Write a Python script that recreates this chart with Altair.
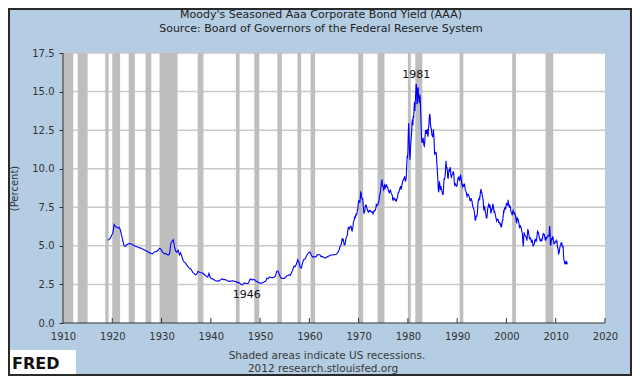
import altair as alt
import pandas as pd

# ---------------- data ----------------
# Moody's Seasoned Aaa yield, quarterly 1919-1939
aaa_q_1919_1939 = [
    5.36, 5.42, 5.52, 5.68,  5.85, 6.38, 6.25, 6.22,  6.15, 6.20, 6.05, 5.70,
    5.35, 5.02, 4.96, 5.06,  5.10, 5.15, 5.14, 5.12,  5.07, 5.03, 4.97, 4.96,
    4.93, 4.88, 4.87, 4.85,  4.80, 4.76, 4.72, 4.68,  4.63, 4.59, 4.55, 4.50,
    4.48, 4.54, 4.62, 4.62,  4.66, 4.76, 4.85, 4.78,  4.63, 4.55, 4.48, 4.50,
    4.44, 4.40, 4.48, 5.15,  5.30, 5.40, 4.95, 4.66,  4.58, 4.72, 4.42, 4.55,
    4.30, 4.05, 3.95, 3.88,  3.75, 3.66, 3.55, 3.52,  3.40, 3.27, 3.20, 3.12,
    3.15, 3.34, 3.30, 3.27,  3.25, 3.24, 3.16, 3.08,  3.02, 2.97, 3.22, 2.95,
]
# quarterly 1940-1965
aaa_q_1940_1965 = [
    2.87, 2.86, 2.82, 2.74,  2.72, 2.74, 2.72, 2.78,  2.83, 2.86, 2.81, 2.82,
    2.79, 2.73, 2.70, 2.70,  2.72, 2.74, 2.72, 2.70,  2.67, 2.62, 2.63, 2.58,
    2.50, 2.47, 2.55, 2.60,  2.58, 2.55, 2.58, 2.78,  2.86, 2.78, 2.83, 2.80,
    2.72, 2.70, 2.63, 2.60,  2.58, 2.60, 2.62, 2.67,  2.70, 2.90, 2.87, 2.98,
    2.97, 2.93, 2.94, 2.98,  3.05, 3.35, 3.38, 3.18,  2.98, 2.89, 2.88, 2.89,
    2.95, 3.05, 3.08, 3.12,  3.09, 3.25, 3.45, 3.68,  3.66, 3.82, 4.10, 3.95,
    3.60, 3.57, 3.90, 4.12,  4.14, 4.32, 4.46, 4.57,  4.60, 4.40, 4.28, 4.30,
    4.28, 4.30, 4.43, 4.42,  4.42, 4.30, 4.32, 4.25,  4.21, 4.22, 4.29, 4.33,
    4.38, 4.41, 4.41, 4.43,  4.42, 4.44, 4.50, 4.62,
]
# monthly 1966-1978
aaa_m_1966_1978 = [
    4.74, 4.78, 4.92, 4.96, 4.98, 5.07, 5.16, 5.31, 5.49, 5.41, 5.35, 5.39,
    5.20, 5.03, 5.13, 5.11, 5.24, 5.44, 5.58, 5.62, 5.65, 5.82, 6.07, 6.19,
    6.17, 6.10, 6.11, 6.21, 6.27, 6.28, 6.24, 6.02, 5.97, 6.09, 6.19, 6.45,
    6.59, 6.66, 6.85, 6.89, 6.79, 6.98, 7.08, 6.97, 7.14, 7.33, 7.35, 7.72,
    7.91, 7.93, 7.84, 7.83, 8.11, 8.48, 8.44, 8.13, 8.09, 8.03, 8.05, 7.64,
    7.36, 7.08, 7.21, 7.25, 7.53, 7.64, 7.64, 7.59, 7.44, 7.39, 7.26, 7.25,
    7.19, 7.27, 7.24, 7.30, 7.30, 7.23, 7.21, 7.19, 7.22, 7.21, 7.12, 7.08,
    7.15, 7.22, 7.29, 7.26, 7.29, 7.37, 7.45, 7.68, 7.63, 7.60, 7.67, 7.68,
    7.83, 7.85, 8.01, 8.25, 8.37, 8.47, 8.72, 9.00, 9.24, 9.27, 8.89, 8.89,
    8.83, 8.62, 8.67, 8.95, 8.90, 8.77, 8.84, 8.95, 8.95, 8.86, 8.78, 8.79,
    8.60, 8.55, 8.52, 8.40, 8.58, 8.62, 8.56, 8.45, 8.38, 8.32, 8.25, 7.98,
    7.96, 8.04, 8.10, 8.04, 8.05, 7.95, 7.94, 7.98, 7.92, 8.04, 8.08, 8.19,
    8.41, 8.47, 8.47, 8.56, 8.69, 8.76, 8.88, 8.69, 8.69, 8.89, 9.03, 9.16,
]
# monthly 1979-1995
aaa_m_1979_1995 = [
    9.25, 9.26, 9.37, 9.38, 9.50, 9.29, 9.20, 9.23, 9.44, 10.13, 10.76, 10.74,
    11.09, 12.38, 12.96, 12.04, 10.99, 10.58, 11.07, 11.64, 12.02, 12.31, 12.97, 13.21,
    12.81, 13.35, 13.33, 13.88, 14.32, 13.75, 14.38, 14.89, 15.49, 15.40, 14.22, 14.23,
    15.18, 15.27, 14.58, 14.46, 14.26, 14.81, 14.61, 13.71, 12.94, 12.12, 11.68, 11.83,
    11.79, 12.01, 11.73, 11.51, 11.46, 11.74, 12.15, 12.51, 12.37, 12.25, 12.41, 12.57,
    12.20, 12.08, 12.57, 12.81, 13.28, 13.55, 13.44, 12.87, 12.66, 12.63, 12.29, 12.13,
    12.08, 12.13, 12.56, 12.23, 11.72, 10.94, 10.97, 11.05, 11.07, 11.02, 10.55, 10.16,
    9.71, 9.25, 8.64, 8.47, 8.95, 9.18, 8.87, 8.63, 8.89, 8.81, 8.62, 8.55,
    8.36, 8.38, 8.36, 8.85, 9.33, 9.32, 9.42, 9.67, 10.18, 10.52, 10.01, 10.11,
    9.88, 9.40, 9.39, 9.67, 9.90, 9.86, 9.96, 10.11, 9.82, 9.51, 9.45, 9.57,
    9.62, 9.64, 9.80, 9.79, 9.57, 9.10, 8.93, 8.96, 9.01, 8.92, 8.89, 8.86,
    8.99, 9.22, 9.37, 9.46, 9.47, 9.26, 9.24, 9.41, 9.56, 9.53, 9.30, 9.05,
    8.93, 8.83, 8.93, 8.86, 8.86, 9.01, 9.00, 8.75, 8.61, 8.55, 8.48, 8.31,
    8.20, 8.29, 8.35, 8.33, 8.28, 8.22, 8.07, 7.95, 7.92, 7.99, 8.10, 7.98,
    7.91, 7.71, 7.58, 7.46, 7.43, 7.33, 7.17, 6.85, 6.66, 6.67, 6.93, 6.93,
    6.92, 7.08, 7.48, 7.88, 7.99, 7.97, 8.11, 8.07, 8.34, 8.57, 8.68, 8.46,
    8.46, 8.26, 8.12, 8.03, 7.65, 7.30, 7.41, 7.57, 7.32, 7.12, 7.02, 6.82,
]
# monthly 1996-2012
aaa_m_1996_2012 = [
    6.81, 6.99, 7.35, 7.50, 7.62, 7.71, 7.65, 7.46, 7.66, 7.39, 7.10, 7.20,
    7.42, 7.31, 7.55, 7.73, 7.58, 7.41, 7.14, 7.22, 7.15, 7.00, 6.87, 6.76,
    6.61, 6.67, 6.72, 6.69, 6.69, 6.53, 6.55, 6.52, 6.40, 6.37, 6.41, 6.22,
    6.24, 6.40, 6.62, 6.64, 6.93, 7.23, 7.19, 7.40, 7.39, 7.55, 7.36, 7.55,
    7.78, 7.68, 7.68, 7.64, 7.99, 7.67, 7.65, 7.55, 7.62, 7.55, 7.45, 7.21,
    7.15, 7.10, 6.98, 7.20, 7.29, 7.18, 7.13, 7.02, 7.17, 7.03, 6.97, 6.77,
    6.55, 6.51, 6.81, 6.76, 6.75, 6.63, 6.53, 6.37, 6.15, 6.32, 6.31, 6.21,
    6.17, 5.95, 5.89, 5.74, 5.22, 4.97, 5.49, 5.88, 5.72, 5.70, 5.65, 5.62,
    5.54, 5.50, 5.33, 5.73, 6.04, 6.01, 5.82, 5.65, 5.46, 5.47, 5.52, 5.47,
    5.36, 5.20, 5.40, 5.33, 5.15, 4.96, 5.06, 5.09, 5.13, 5.35, 5.42, 5.37,
    5.29, 5.35, 5.53, 5.84, 5.95, 5.89, 5.85, 5.68, 5.51, 5.51, 5.33, 5.32,
    5.40, 5.39, 5.30, 5.47, 5.47, 5.79, 5.73, 5.79, 5.74, 5.66, 5.44, 5.49,
    5.33, 5.53, 5.51, 5.55, 5.57, 5.68, 5.67, 5.64, 5.65, 6.28, 6.12, 5.05,
    5.05, 5.27, 5.50, 5.39, 5.54, 5.61, 5.41, 5.26, 5.13, 5.15, 5.19, 5.26,
    5.26, 5.35, 5.27, 5.29, 4.96, 4.88, 4.72, 4.49, 4.53, 4.68, 4.87, 5.02,
    5.04, 5.22, 5.13, 5.16, 4.96, 4.99, 4.93, 4.37, 4.09, 3.98, 3.87, 3.93,
    3.85, 3.85, 3.99, 3.96, 3.80,
]

# US recessions (NBER peak -> trough)
rec_start = ["1910-01", "1913-01", "1918-08", "1920-01", "1923-05", "1926-10",
             "1929-08", "1937-05", "1945-02", "1948-11", "1953-07", "1957-08",
             "1960-04", "1969-12", "1973-11", "1980-01", "1981-07", "1990-07",
             "2001-03", "2007-12"]
rec_end = ["1912-01", "1914-12", "1919-03", "1921-07", "1924-07", "1927-11",
           "1933-03", "1938-06", "1945-10", "1949-10", "1954-05", "1958-04",
           "1961-02", "1970-11", "1975-03", "1980-07", "1982-11", "1991-03",
           "2001-11", "2009-06"]

x_ticks = [1910, 1920, 1930, 1940, 1950, 1960, 1970, 1980, 1990, 2000, 2010, 2020]
y_ticks = [0.0, 2.5, 5.0, 7.5, 10.0, 12.5, 15.0, 17.5]

ann_year = [1981.7, 1946.3]
ann_value = [15.49, 2.46]
ann_text = ["1981", "1946"]

title_lines = ["Moody's Seasoned Aaa Corporate Bond Yield (AAA)",
               "Source: Board of Governors of the Federal Reserve System"]
footer_lines = ["Shaded areas indicate US recessions.",
                "2012 research.stlouisfed.org"]

# ---------------- tables ----------------
def ym(s):
    y, m = s.split("-")
    return int(y) + (int(m) - 1) / 12.0

xs, vs = [], []
for start, vals in [(1919, aaa_q_1919_1939), (1940, aaa_q_1940_1965)]:
    for i, v in enumerate(vals):
        xs.append(start + i / 4 + 0.125)
        vs.append(v)
for start, vals in [(1966, aaa_m_1966_1978), (1979, aaa_m_1979_1995), (1996, aaa_m_1996_2012)]:
    for i, v in enumerate(vals):
        xs.append(start + i / 12)
        vs.append(v)
series = pd.DataFrame({"year": xs, "value": vs})
rec = pd.DataFrame({"year": [ym(s) for s in rec_start],
                    "end": [ym(s) + 1 / 12 for s in rec_end]})
grid = pd.DataFrame({"value": y_ticks[1:]})
ticks = pd.DataFrame({"year": x_ticks[1:]})
ann = pd.DataFrame({"year": ann_year, "value": ann_value, "label": ann_text})
one = pd.DataFrame({"k": [0]})

W, H = 542, 270
FONT = "DejaVu Sans"
TXT = "#333333"

xscale = alt.Scale(domain=[1910, 2020], nice=False, zero=False)
yscale = alt.Scale(domain=[0, 17.5], nice=False, zero=True)

x_axis = alt.Axis(values=x_ticks, format="d", ticks=False, domain=False, grid=False,
                  title=None, labelPadding=8, labelColor=TXT, labelFontSize=10,
                  labelFont=FONT, labelOverlap=False, labelFlush=False)
y_axis = alt.Axis(values=y_ticks, format=".1f", tickSize=4, tickColor="#333333",
                  domain=False, grid=False, labelPadding=5, labelColor=TXT,
                  labelFontSize=10, labelFont=FONT, title="(Percent)",
                  titleFont=FONT, titleFontSize=10, titleFontWeight="normal",
                  titleColor=TXT, titlePadding=12)

X = alt.X("year:Q", scale=xscale, axis=x_axis, title=None)
Y = alt.Y("value:Q", scale=yscale, axis=y_axis, title="(Percent)")

grid_layer = alt.Chart(grid).mark_rule(color="#c9c9c9", strokeWidth=1.5).encode(y=Y)
rec_layer = alt.Chart(rec).mark_rect(color="#bebebe").encode(x=X, x2="end:Q")
left_dom = alt.Chart(one).mark_rule(color="#333333", strokeWidth=1).encode(
    x=alt.value(0), y=alt.value(0), y2=alt.value(H)
)
bottom_dom = alt.Chart(one).mark_rule(color="#333333", strokeWidth=1).encode(
    y=alt.value(H), x=alt.value(0), x2=alt.value(W)
)
tick_layer = alt.Chart(ticks).mark_rule(color="#333333", strokeWidth=1).encode(
    x=X, y=alt.value(H), y2=alt.value(H - 5),
)
line_layer = alt.Chart(series).mark_line(color="#0000ff", strokeWidth=1.1).encode(x=X, y=Y)
ann_hi = alt.Chart(ann[ann["label"] == "1981"]).mark_text(
    font=FONT, fontSize=11, color="#111111", baseline="bottom", dy=-4
).encode(x=X, y=Y, text="label:N")
ann_lo = alt.Chart(ann[ann["label"] == "1946"]).mark_text(
    font=FONT, fontSize=11, color="#111111", baseline="top", dy=4, dx=5
).encode(x=X, y=Y, text="label:N")
title1 = alt.Chart(one).mark_text(font=FONT, fontSize=11, color="#222222", text=title_lines[0]).encode(
    x=alt.value(258), y=alt.value(-38)
)
title2 = alt.Chart(one).mark_text(font=FONT, fontSize=11, color="#222222", text=title_lines[1]).encode(
    x=alt.value(258), y=alt.value(-24)
)
foot1 = alt.Chart(one).mark_text(font=FONT, fontSize=10.5, color="#3a3a3a", text=footer_lines[0]).encode(
    x=alt.value(264), y=alt.value(303)
)
foot2 = alt.Chart(one).mark_text(font=FONT, fontSize=10.5, color="#3a3a3a", text=footer_lines[1]).encode(
    x=alt.value(260), y=alt.value(315.5)
)
logo_box = alt.Chart(one).mark_rect(color="white").encode(
    x=alt.value(-53), x2=alt.value(13), y=alt.value(297), y2=alt.value(321)
)
logo_txt = alt.Chart(one).mark_text(font=FONT, fontSize=16, fontWeight="bold", color="#111111",
                                    text="FRED", align="left", baseline="alphabetic").encode(
    x=alt.value(-51), y=alt.value(316)
)
frame = alt.Chart(one).mark_rect(fill=None, stroke="#2a2a2a", strokeWidth=2).encode(
    x=alt.value(-54), x2=alt.value(W + 26), y=alt.value(-44), y2=alt.value(H + 52)
)

chart = alt.layer(
    grid_layer, rec_layer, left_dom, bottom_dom, tick_layer, line_layer,
    ann_hi, ann_lo, title1, title2, foot1, foot2, logo_box, logo_txt, frame
).properties(
    width=W, height=H,
    autosize=alt.AutoSizeParams(type="none"),
    padding={"left": 55, "top": 45, "right": 27, "bottom": 53},
    background="#b4cde3",
).configure_view(stroke=None, fill="white")

chart.save("out.html", embed_options={"renderer": "svg", "actions": False})
